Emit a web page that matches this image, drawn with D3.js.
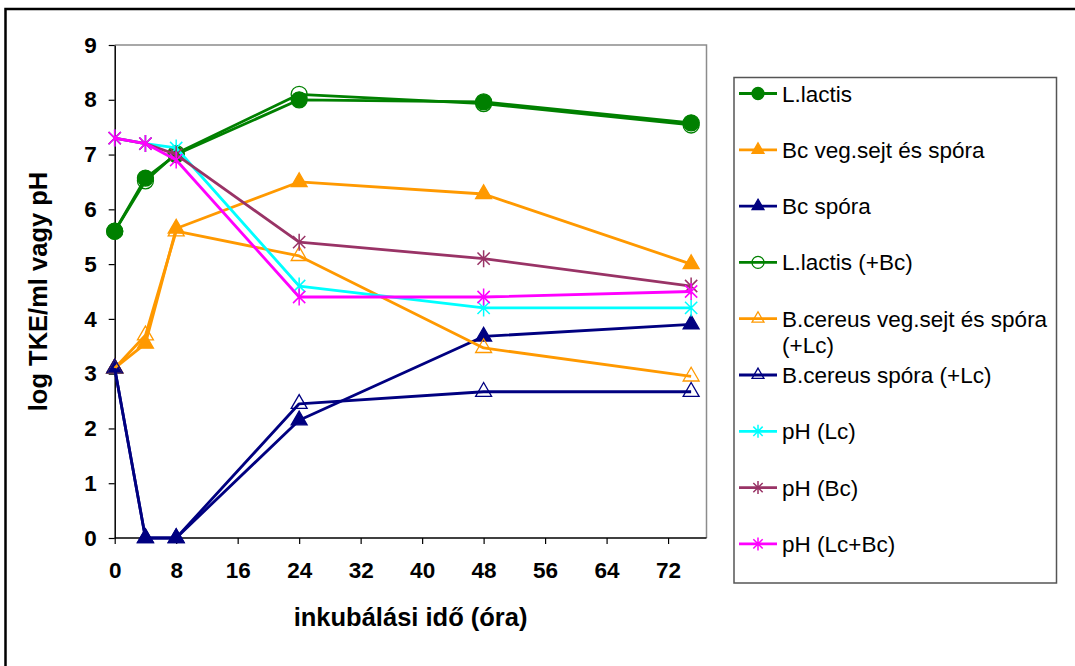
<!DOCTYPE html>
<html>
<head>
<meta charset="utf-8">
<script src="https://cdn.jsdelivr.net/npm/d3@7"></script>
<style>
  body { margin: 0; background: #fff; }
  svg { display: block; font-family: Arial, "Liberation Sans", sans-serif; }
</style>
</head>
<body>
<svg width="1075" height="666"></svg>
<script>
// incubation times (hours)
var hours = [0, 4, 8, 24, 48, 75];

var lactis      = [5.6, 6.57, 7.0, 8.0, 7.96, 7.58];
var bcVeg       = [3.1, 3.55, 5.65, 6.5, 6.28, 5.0];
var bcSpora     = [3.1, 0, 0, 2.15, 3.68, 3.9];
var lactisBc    = [5.6, 6.52, 7.02, 8.1, 7.93, 7.54];
var cereusVegLc = [3.1, 3.7, 5.6, 5.15, 3.47, 2.95];
var cereusSpLc  = [3.1, 0, 0, 2.45, 2.67, 2.67];
var phLc        = [7.3, 7.2, 7.12, 4.6, 4.2, 4.2];
var phBc        = [7.3, 7.2, 7.0, 5.4, 5.1, 4.6];
var phLcBc      = [7.3, 7.2, 6.9, 4.4, 4.4, 4.5];

var xTicks = [0, 8, 16, 24, 32, 40, 48, 56, 64, 72];
var yTicks = [0, 1, 2, 3, 4, 5, 6, 7, 8, 9];

var series = [
  { name: ["L.lactis"], values: lactis, color: "#008000", marker: "circle", filled: true },
  { name: ["Bc veg.sejt és spóra"], values: bcVeg, color: "#FF9900", marker: "triangle", filled: true },
  { name: ["Bc spóra"], values: bcSpora, color: "#000080", marker: "triangle", filled: true },
  { name: ["L.lactis (+Bc)"], values: lactisBc, color: "#008000", marker: "circle", filled: false },
  { name: ["B.cereus veg.sejt és spóra", "(+Lc)"], values: cereusVegLc, color: "#FF9900", marker: "triangle", filled: false },
  { name: ["B.cereus spóra (+Lc)"], values: cereusSpLc, color: "#000080", marker: "triangle", filled: false },
  { name: ["pH (Lc)"], values: phLc, color: "#00FFFF", marker: "star", filled: false },
  { name: ["pH (Bc)"], values: phBc, color: "#993366", marker: "star", filled: false },
  { name: ["pH (Lc+Bc)"], values: phLcBc, color: "#FF00FF", marker: "star", filled: false }
];

var svg = d3.select("svg");

// outer frame
svg.append("path")
    .attr("d", "M5.5,700 L5.5,9 L1080,9")
    .attr("fill", "none")
    .attr("stroke", "#000")
    .attr("stroke-width", 2.5);

var plot = { left: 114.7, right: 706.5, top: 45, bottom: 538 };

var x = d3.scaleLinear().domain([0, 77]).range([plot.left, plot.right]);
var y = d3.scaleLinear().domain([0, 9]).range([plot.bottom, plot.top]);

// plot frame (top / right)
svg.append("path")
    .attr("d", "M" + plot.left + "," + plot.top + "H" + plot.right + "V" + plot.bottom)
    .attr("fill", "none")
    .attr("stroke", "#8c8c8c")
    .attr("stroke-width", 1.5);

var xAxis = svg.append("g")
    .attr("transform", "translate(0," + plot.bottom + ")")
    .call(d3.axisBottom(x).tickValues(xTicks).tickSize(6).tickPadding(18).tickSizeOuter(0));

var yAxis = svg.append("g")
    .attr("transform", "translate(" + plot.left + ",0)")
    .call(d3.axisLeft(y).tickValues(yTicks).tickSize(6).tickPadding(12).tickSizeOuter(0));

[xAxis, yAxis].forEach(function(a) {
    a.select(".domain").attr("stroke", "#000").attr("stroke-width", 1.5);
    a.selectAll(".tick line").attr("stroke", "#000").attr("stroke-width", 1.2);
    a.selectAll(".tick text")
        .attr("fill", "#000")
        .style("font-size", "22.5px")
        .style("font-weight", "bold")
        .style("font-family", "Arial, 'Liberation Sans', sans-serif");
});
xAxis.select(".domain").attr("d", "M" + plot.left + ",0H" + plot.right);

svg.append("text")
    .attr("x", (plot.left + plot.right) / 2)
    .attr("y", 626)
    .attr("text-anchor", "middle")
    .style("font-size", "25.5px")
    .style("font-weight", "bold")
    .text("inkubálási idő (óra)");

svg.append("text")
    .attr("transform", "translate(47," + (plot.top + plot.bottom) / 2 + ") rotate(-90)")
    .attr("text-anchor", "middle")
    .style("font-size", "25.5px")
    .style("font-weight", "bold")
    .text("log TKE/ml vagy pH");

function markerPath(type, size) {
    if (type === "circle") return d3.symbol(d3.symbolCircle, size * size * Math.PI / 4)();
    if (type === "triangle") return d3.symbol(d3.symbolTriangle, size * size * 0.43)();
    var r = size / 2, d = r * 0.72;
    return "M0," + (-r) + "V" + r +
        "M" + (-d) + "," + (-d) + "L" + d + "," + d +
        "M" + (-d) + "," + d + "L" + d + "," + (-d);
}

function drawMarker(g, s, size) {
    g.append("path")
        .attr("d", markerPath(s.marker, size))
        .attr("fill", s.marker === "star" ? "none" : (s.filled ? s.color : "#fff"))
        .attr("fill-opacity", s.marker !== "star" && !s.filled ? 0 : 1)
        .attr("stroke", s.color)
        .attr("stroke-width", s.marker === "star" ? 1.5 : 1.3);
}

var line = d3.line()
    .x(function(d) { return x(d[0]); })
    .y(function(d) { return y(d[1]); });

series.forEach(function(s) {
    var pts = hours.map(function(h, i) { return [h, s.values[i]]; });
    var g = svg.append("g");
    g.append("path")
        .attr("d", line(pts))
        .attr("fill", "none")
        .attr("stroke", s.color)
        .attr("stroke-width", 2.8)
        .attr("stroke-linejoin", "round");
    g.selectAll("g.pt")
        .data(pts)
        .enter().append("g")
        .attr("class", "pt")
        .attr("transform", function(d) { return "translate(" + x(d[0]) + "," + y(d[1]) + ")"; })
        .each(function() { drawMarker(d3.select(this), s, s.marker === "star" ? 17 : 16); });
});

// legend
var legend = svg.append("g");
legend.append("rect")
    .attr("x", 734).attr("y", 77.5)
    .attr("width", 322.5).attr("height", 505.5)
    .attr("fill", "#fff")
    .attr("stroke", "#555")
    .attr("stroke-width", 1.5);

series.forEach(function(s, i) {
    var ly = 93.5 + i * 56.3;
    var g = legend.append("g");
    g.append("line")
        .attr("x1", 739).attr("x2", 777)
        .attr("y1", ly).attr("y2", ly)
        .attr("stroke", s.color)
        .attr("stroke-width", 2.8);
    var m = g.append("g").attr("transform", "translate(758," + ly + ")");
    drawMarker(m, s, s.marker === "star" ? 13 : 12);
    var t = g.append("text")
        .attr("x", 782)
        .attr("y", ly + 8)
        .style("font-size", "22.5px")
        .attr("fill", "#000");
    s.name.forEach(function(part, k) {
        t.append("tspan").attr("x", 782).attr("dy", k === 0 ? 0 : 26.7).text(part);
    });
});
</script>
</body>
</html>
